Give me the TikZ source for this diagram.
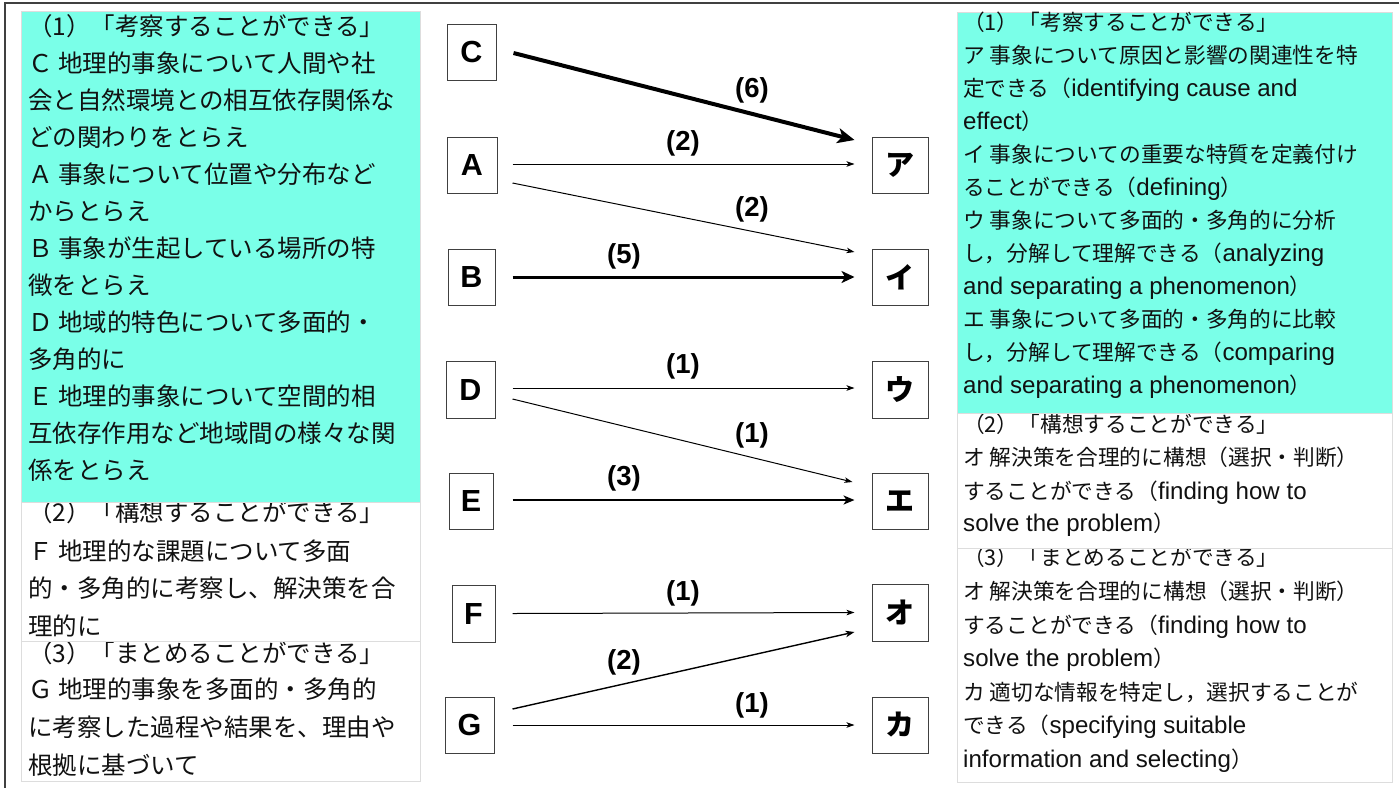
\documentclass[tikz,border=0pt]{standalone}
\usepackage{fontspec}
\setmainfont{Noto Sans CJK JP}
\newfontfamily\latf[Scale=1.11]{Liberation Sans}
\newfontfamily\boldlat{Liberation Sans}
\newcommand{\la}[1]{{\latf #1}}
\usetikzlibrary{arrows.meta,calc}
\definecolor{aqua}{HTML}{7AFFE8}
\definecolor{panelline}{HTML}{DDDDDD}
\definecolor{ink}{HTML}{111111}
\begin{document}
\begin{tikzpicture}[x=1pt,y=-1pt,
  lt/.style={inner sep=0pt, anchor=base west, font=\fontsize{24.5}{29}\selectfont, text=ink},
  rt/.style={inner sep=0pt, anchor=base west, font=\fontsize{21.7}{26}\selectfont, text=ink},
  panel/.style={draw=panelline, line width=1pt},
  lbox/.style={draw=black!75, line width=1pt, inner sep=0pt, minimum height=56pt, font=\fontsize{30.5}{33}\selectfont\boldlat\bfseries},
  rbox/.style={draw=black!75, line width=1pt, inner sep=0pt, minimum height=56pt, minimum width=56pt, font=\fontsize{29}{32}\selectfont\bfseries},
  wlab/.style={font=\fontsize{27.5}{30}\selectfont\boldlat\bfseries, inner sep=0pt},
  aone/.style={line width=1pt, -{Stealth[length=8pt,width=5.5pt,inset=2pt]}},
  atwo/.style={line width=1.4pt, -{Stealth[length=9pt,width=6.5pt,inset=2.5pt]}},
  athree/.style={line width=2pt, -{Stealth[length=11pt,width=9pt,inset=3pt]}},
  afive/.style={line width=3pt, -{Stealth[length=13pt,width=12pt,inset=3.5pt]}},
  asix/.style={line width=4pt, -{Stealth[length=17pt,width=15pt,inset=4.5pt]}},
]
\useasboundingbox (0,0) rectangle (1399,788);
% outer frame (top and left)
\draw[black!75, line width=1.5pt] (1399,3) -- (5,3) -- (5,788);

% ---------- left panel ----------
\draw[panel, fill=white] (21,641) rectangle (420,781);
\foreach \y/\txt [count=\i] in {662/{（3）「まとめることができる」},698/{Ｇ 地理的事象を多面的・多角的},736/{に考察した過程や結果を、理由や},774/{根拠に基づいて}}
  \node[lt] (lc\i) at (28,\y) {\txt};
\draw[panel, fill=white] (21,502) rectangle (420,641);
\foreach \y/\txt [count=\i] in {521/{（2）「構想することができる」},560/{Ｆ 地理的な課題について多面},597/{的・多角的に考察し、解決策を合},635/{理的に}}
  \node[lt] (lb\i) at (28,\y) {\txt};
\draw[panel, fill=aqua] (21,11) rectangle (420,502);
\foreach \txt [count=\i] in {{（1）「考察することができる」},{Ｃ 地理的事象について人間や社},{会と自然環境との相互依存関係な},{どの関わりをとらえ},{Ａ 事象について位置や分布など},{からとらえ},{Ｂ 事象が生起している場所の特},{徴をとらえ},{Ｄ 地域的特色について多面的・},{多角的に},{Ｅ 地理的事象について空間的相},{互依存作用など地域間の様々な関},{係をとらえ}}
  \node[lt] (la\i) at (28,{35.3+37*(\i-1)}) {\txt};

% ---------- right panel ----------
\draw[panel, fill=white] (957,548) rectangle (1392,782);
\foreach \y/\txt [count=\i] in {565/{（3）「まとめることができる」},599/{オ 解決策を合理的に構想（選択・判断）},633/{することができる（\la{finding how to}},666/{\la{solve the problem}）},700/{カ 適切な情報を特定し，選択することが},733/{できる（\la{specifying suitable}},767/{\la{information and selecting}）}}
  \node[rt] (rc\i) at (963,\y) {\txt};
\draw[panel, fill=white] (957,413) rectangle (1392,548);
\foreach \y/\txt [count=\i] in {432/{（2）「構想することができる」},465/{オ 解決策を合理的に構想（選択・判断）},499/{することができる（\la{finding how to}},531/{\la{solve the problem}）}}
  \node[rt] (rb\i) at (963,\y) {\txt};
\draw[panel, fill=aqua] (957,12) rectangle (1392,413);
\foreach \txt [count=\i] in {{（1）「考察することができる」},{ア 事象について原因と影響の関連性を特},{定できる（\la{identifying cause and}},{\la{effect}）},{イ 事象についての重要な特質を定義付け},{ることができる（\la{defining}）},{ウ 事象について多面的・多角的に分析},{し，分解して理解できる（\la{analyzing}},{\la{and separating a phenomenon}）},{エ 事象について多面的・多角的に比較},{し，分解して理解できる（\la{comparing}},{\la{and separating a phenomenon}）}}
  \node[rt] (ra\i) at (963,{30.2+33*(\i-1)}) {\txt};

% ---------- middle boxes ----------
\node[lbox, minimum width=49pt] (C) at (471.5,52) {C};
\node[lbox, minimum width=50pt] (A) at (472,165) {A};
\node[lbox, minimum width=47pt] (B) at (471.5,277) {B};
\node[lbox, minimum width=49pt, minimum height=57pt] (D) at (470.5,389.5) {D};
\node[lbox, minimum width=44pt] (E) at (471,501) {E};
\node[lbox, minimum width=43pt, minimum height=57pt] (F) at (473.5,613.5) {F};
\node[lbox, minimum width=49pt] (G) at (469.5,725) {G};

\node[rbox] (ka) at (900,165) {ア};
\node[rbox] (ki) at (900,277) {イ};
\node[rbox, minimum height=57pt] (ku) at (900,389.5) {ウ};
\node[rbox] (ke) at (900,501) {エ};
\node[rbox, minimum height=57pt] (ko) at (900,612.5) {オ};
\node[rbox] (kk) at (900,725) {カ};

% ---------- arrows ----------
\draw[asix]   ($(C.east)+(17,1)$)   -- ($(ka.west)+(-17,-25)$);
\draw[aone]   ($(A.east)+(15,-1)$)  -- ($(ka.west)+(-17,-1)$);
\draw[aone]   ($(A.east)+(15,18)$)  -- ($(ki.west)+(-17,-25)$);
\draw[afive]  ($(B.east)+(17,0)$)   -- ($(ki.west)+(-17,0)$);
\draw[aone]   ($(D.east)+(17,-1.5)$) -- ($(ku.west)+(-17,-1.5)$);
\draw[aone]   ($(D.east)+(17,9.5)$) -- ($(ke.west)+(-19,-19)$);
\draw[athree] ($(E.east)+(19,-1)$)  -- ($(ke.west)+(-17,-1)$);
\draw[aone]   ($(F.east)+(17,0)$)   -- ($(ko.west)+(-17,0)$);
\draw[atwo]   ($(G.east)+(18,-16)$) -- ($(ko.west)+(-17,19.5)$);
\draw[aone]   ($(G.east)+(18,0)$)   -- ($(kk.west)+(-17,0)$);

% ---------- weight labels ----------
\node[wlab] (w1) at (752,90) {(6)};
\node[wlab] (w2) at (683,143) {(2)};
\node[wlab] (w3) at (752,209) {(2)};
\node[wlab] (w4) at (624,256) {(5)};
\node[wlab] (w5) at (683,366) {(1)};
\node[wlab] (w6) at (752,435) {(1)};
\node[wlab] (w7) at (624,478) {(3)};
\node[wlab] (w8) at (683,593) {(1)};
\node[wlab] (w9) at (624,662) {(2)};
\node[wlab] (w10) at (752,705) {(1)};
\end{tikzpicture}
\end{document}
